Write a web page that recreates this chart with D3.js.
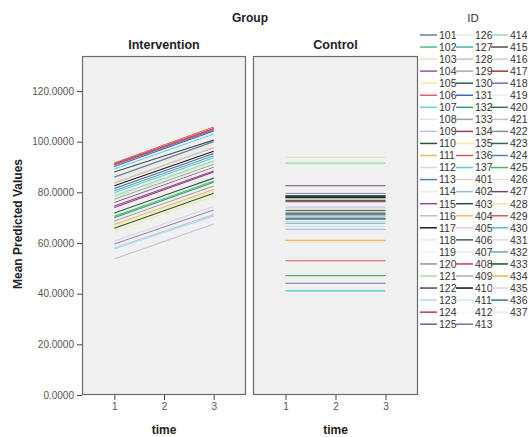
<!DOCTYPE html>
<html>
<head>
<meta charset="utf-8">
<script src="https://cdn.jsdelivr.net/npm/d3@7"></script>
<style>
  body { margin: 0; background: #fff; }
  svg { display: block; font-family: Arial, "Liberation Sans", sans-serif; }
</style>
</head>
<body>
<svg id="chart" width="528" height="437"></svg>
<script>
// --- data ---
const times = [1, 2, 3];
const yTicks = [0, 20, 40, 60, 80, 100, 120];
const groups = ["Intervention", "Control"];

const interventionIds = [101, 102, 103, 104, 105, 106, 107, 108, 109, 110, 111, 112, 113,
  114, 115, 116, 117, 118, 119, 120, 121, 122, 123, 124, 125, 126, 127, 128, 129, 130,
  131, 132, 133, 134, 135, 136, 137];
const interventionValues = [
  [86.0, 93.0, 100.0], [70.5, 77.5, 84.5], [84.0, 91.0, 98.0], [76.0, 83.0, 90.0],
  [66.5, 73.4, 80.3], [91.6, 98.7, 105.8], [89.2, 96.1, 103.0], [78.0, 85.0, 92.0],
  [58.0, 64.6, 71.2], [65.8, 72.7, 79.6], [67.3, 74.2, 81.1], [60.8, 67.6, 74.4],
  [90.8, 97.7, 104.6], [76.5, 83.4, 90.3], [74.6, 81.5, 88.4], [83.6, 90.6, 97.6],
  [82.6, 89.4, 96.2], [85.2, 92.2, 99.2], [63.0, 69.9, 76.8], [59.6, 66.3, 73.0],
  [78.6, 85.5, 92.4], [88.0, 94.3, 100.6], [57.6, 64.1, 70.6], [91.2, 98.2, 105.2],
  [81.5, 88.4, 95.3], [85.0, 92.0, 99.0], [80.6, 87.5, 94.4], [53.7, 60.6, 67.5],
  [77.3, 84.2, 91.1], [71.8, 78.7, 85.6], [90.2, 97.2, 104.2], [70.0, 77.0, 84.0],
  [68.7, 75.6, 82.5], [74.0, 81.0, 88.0], [64.6, 71.5, 78.4], [91.0, 98.0, 105.0],
  [79.8, 86.7, 93.6]
];

const controlIds = [401, 402, 403, 404, 405, 406, 407, 408, 409, 410, 411, 412, 413,
  414, 415, 416, 417, 418, 419, 420, 421, 422, 423, 424, 425, 426, 427, 428, 429, 430,
  431, 432, 433, 434, 435, 436, 437];
const controlValues = [
  [74.5, 74.5, 74.5], [65.4, 65.4, 65.4], [78.4, 78.4, 78.4], [60.9, 60.9, 60.9],
  [73.2, 73.2, 73.2], [72.8, 72.8, 72.8], [92.0, 92.0, 92.0], [76.3, 76.3, 76.3],
  [72.0, 72.0, 72.0], [77.9, 77.9, 77.9], [66.5, 66.5, 66.5], [75.0, 75.0, 75.0],
  [44.1, 44.1, 44.1], [91.5, 91.5, 91.5], [78.7, 78.7, 78.7], [70.5, 70.5, 70.5],
  [76.6, 76.6, 76.6], [79.6, 79.6, 79.6], [80.0, 80.0, 80.0], [76.8, 76.8, 76.8],
  [72.5, 72.5, 72.5], [71.1, 71.1, 71.1], [71.5, 71.5, 71.5], [69.8, 69.8, 69.8],
  [47.1, 47.1, 47.1], [93.8, 93.8, 93.8], [82.6, 82.6, 82.6], [73.7, 73.7, 73.7],
  [53.0, 53.0, 53.0], [41.1, 41.1, 41.1], [68.5, 68.5, 68.5], [67.8, 67.8, 67.8],
  [78.2, 78.2, 78.2], [61.1, 61.1, 61.1], [74.0, 74.0, 74.0], [69.4, 69.4, 69.4],
  [91.0, 91.0, 91.0]
];

// line colours per ID (same order as the legend)
const idColors = [
  "#687c94", "#4cbc7c", "#eedcc0", "#8c5c98", "#f4ec98", "#ec5c64", "#6cd4d4", "#e4e0ec",
  "#b4c8dc", "#24583c", "#f0b45c", "#dcd0f0", "#4c80a4", "#e0f0dc", "#904c8c", "#bcbcbc",
  "#1c1c1c", "#d4f0f0", "#f0f0ec", "#9c8cac", "#a4e0a4", "#404c54", "#b4d8f0", "#c43454",
  "#6064a4", "#e8e8e4", "#44b4b4", "#ccbcdc", "#9cb0a4", "#246444", "#4464c4", "#34a464",
  "#a4a4a4", "#a43474", "#f8e8a4", "#d45454", "#64ccd4",
  "#d4d4d4", "#94bcdc", "#2c4c3c", "#f4bc64", "#dccce8", "#3c5c7c", "#e8f0e8", "#d43464",
  "#acacac", "#101010", "#c4e8f0", "#f8f8f8", "#7474a4", "#94dcb4", "#545454", "#c4d0dc",
  "#a43434", "#6474b4", "#ececf0", "#347454", "#c4c4c4", "#848c94", "#2c6c4c", "#5484a4",
  "#44b474", "#ece4c8", "#744474", "#e8e89c", "#e45464", "#44c4d4", "#dcdcdc", "#64acb4",
  "#1c4c2c", "#ecb444", "#e4ccf0", "#2c7c8c", "#e4f0e4"
];

const allIds = interventionIds.concat(controlIds);
const color = d3.scaleOrdinal().domain(allIds).range(idColors);

// --- layout ---
const svg = d3.select("#chart");
const plotTop = 56, plotBottom = 395;
const panels = [
  { name: groups[0], x0: 82, x1: 246, ids: interventionIds, values: interventionValues },
  { name: groups[1], x0: 253, x1: 418, ids: controlIds, values: controlValues }
];

const y = d3.scaleLinear().domain([0, 133.8]).range([plotBottom, plotTop]);

svg.append("text")
  .attr("x", 250).attr("y", 22)
  .attr("text-anchor", "middle")
  .attr("font-size", 12).attr("font-weight", "bold").attr("fill", "#222")
  .text("Group");

svg.append("text")
  .attr("transform", "translate(22," + 224 + ") rotate(-90)")
  .attr("text-anchor", "middle")
  .attr("font-size", 12).attr("font-weight", "bold").attr("fill", "#222")
  .text("Mean Predicted Values");

// y axis
const yAxis = svg.append("g")
  .attr("transform", "translate(82,0)")
  .call(d3.axisLeft(y).tickValues(yTicks).tickSize(5).tickPadding(3)
    .tickFormat(d => d.toFixed(4)));
yAxis.select(".domain").remove();
yAxis.selectAll("line").attr("stroke", "#444");
yAxis.selectAll("text").attr("font-size", 10).attr("fill", "#555")
  .attr("font-family", "Arial, 'Liberation Sans', sans-serif");

const line = d3.line();

panels.forEach(p => {
  const x = d3.scaleLinear().domain([0.35, 3.65]).range([p.x0, p.x1]);

  svg.append("text")
    .attr("x", (p.x0 + p.x1) / 2).attr("y", 49)
    .attr("text-anchor", "middle")
    .attr("font-size", 12.5).attr("font-weight", "bold").attr("fill", "#222")
    .text(p.name);

  svg.append("rect")
    .attr("x", p.x0 + 0.5).attr("y", plotTop + 0.5)
    .attr("width", p.x1 - p.x0 - 1).attr("height", plotBottom - plotTop - 1)
    .attr("fill", "#f0f0f0")
    .attr("stroke", "#6a6a6a").attr("stroke-width", 1.2);

  const g = svg.append("g");
  g.selectAll("path")
    .data(p.ids.map((id, i) => ({ id, vals: p.values[i] })))
    .join("path")
    .attr("d", d => line(times.map((t, k) => [x(t), y(d.vals[k])])))
    .attr("fill", "none")
    .attr("stroke", d => color(d.id))
    .attr("stroke-width", 1.1);

  const xAxis = svg.append("g")
    .attr("transform", "translate(0," + plotBottom + ")")
    .call(d3.axisBottom(x).tickValues(times).tickSize(5).tickPadding(3)
      .tickFormat(d3.format("d")));
  xAxis.select(".domain").remove();
  xAxis.selectAll("line").attr("stroke", "#444");
  xAxis.selectAll("text").attr("font-size", 10).attr("fill", "#555")
    .attr("font-family", "Arial, 'Liberation Sans', sans-serif");

  svg.append("text")
    .attr("x", (p.x0 + p.x1) / 2).attr("y", 434)
    .attr("text-anchor", "middle")
    .attr("font-size", 12).attr("font-weight", "bold").attr("fill", "#222")
    .text("time");
});

// legend
svg.append("text")
  .attr("x", 473).attr("y", 22)
  .attr("text-anchor", "middle")
  .attr("font-size", 11.5).attr("fill", "#333")
  .text("ID");

const rowsPerCol = 25;
const colX = [420, 456, 491];
const leg = svg.append("g");
allIds.forEach((id, i) => {
  const c = Math.floor(i / rowsPerCol), r = i % rowsPerCol;
  const yy = 35 + r * 12.05;
  leg.append("line")
    .attr("x1", colX[c]).attr("x2", colX[c] + 17)
    .attr("y1", yy).attr("y2", yy)
    .attr("stroke", color(id)).attr("stroke-width", 1.5);
  leg.append("text")
    .attr("x", colX[c] + 19).attr("y", yy + 3.8)
    .attr("font-size", 10.5).attr("fill", "#333")
    .text(id);
});
</script>
</body>
</html>
